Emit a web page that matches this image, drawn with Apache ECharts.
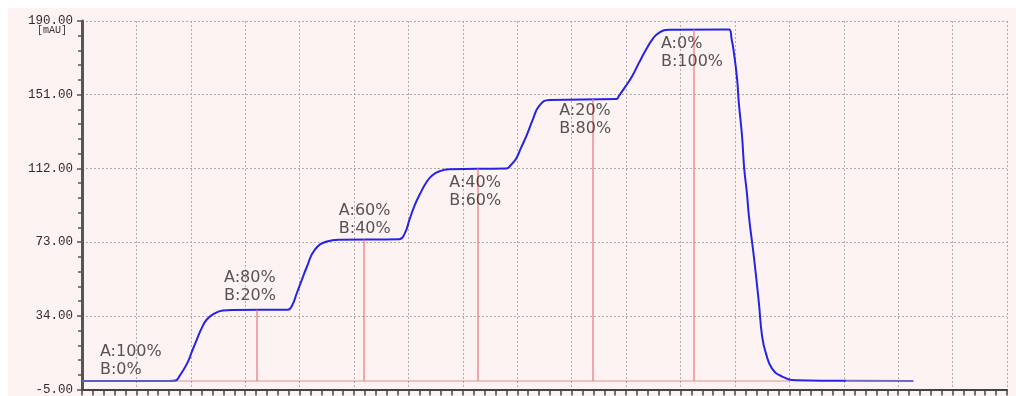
<!DOCTYPE html>
<html>
<head>
<meta charset="utf-8">
<script src="https://cdn.jsdelivr.net/npm/echarts@6/dist/echarts.min.js"></script>
<style>
  html, body { margin: 0; padding: 0; background: #ffffff; }
  #bg { position: absolute; left: 8px; top: 8px; right: 0; bottom: 0; background: #fdf3f2; }
  #chart { position: absolute; left: 0; top: 0; width: 1016px; height: 396px; }
</style>
</head>
<body>
<div id="bg"></div>
<div id="chart"></div>
<script>
// absorbance trace, x in grid units, y in mAU
const traceX = [0, 1.60, 1.71, 1.80, 1.93, 2.02, 2.11, 2.20, 2.29, 2.44, 2.59, 2.77, 3.78,
  3.87, 3.94, 4.04, 4.13, 4.28, 4.50, 4.73, 5.83,
  5.93, 6.02, 6.11, 6.20, 6.33, 6.44, 6.57, 6.75, 7.80,
  7.89, 7.98, 8.07, 8.17, 8.29, 8.40, 8.59, 9.82,
  9.87, 9.98, 10.11, 10.24, 10.37, 10.48, 10.61, 10.79, 11.89,
  11.94, 11.98, 12.04, 12.07, 12.13, 12.17, 12.22, 12.26, 12.35, 12.44, 12.50, 12.57, 12.68, 12.86, 13.12, 14.05, 15.28];
const traceY = [-0.5, -0.5, -0.3, 2.5, 8.7, 15, 21.4, 27.5, 31.9, 35.3, 36.8, 37.1, 37.2,
  40, 45.4, 53, 59.7, 69, 73.3, 74.3, 74.5,
  77.5, 85, 92.2, 97.8, 104.7, 108.4, 110.5, 111.5, 112,
  114.1, 117.3, 123, 129.3, 138.2, 145, 148.2, 148.7,
  150.5, 155, 160.8, 168.1, 175, 180.2, 183.9, 185.4, 185.5,
  180.2, 173.4, 159.2, 147.1, 129.3, 112, 98.9, 85.8, 64.8, 40.8, 23, 14.1, 6.2, 2, -0.1, -0.4, -0.5];

// gradient step markers (red lines)
const stepX = [3.21, 5.17, 7.27, 9.38, 11.25];
const stepTop = [37.2, 74.4, 112, 148.7, 185.5];
const baseLevel = -0.5;
const baseEnd = 13.0;

// solvent composition annotations
const compA = [100, 80, 60, 40, 20, 0];
const compB = [0, 20, 40, 60, 80, 100];
const compX = [0.33, 2.61, 4.72, 6.75, 8.77, 10.64];
const compY = [9.9, 49.2, 84.8, 99.5, 137.7, 172.9];

// axes
const yMin = -5, yMax = 190, yStep = 39;
const xMin = 0, xMax = 17, xStep = 1;

(function () {
  const chart = echarts.init(document.getElementById('chart'), null, { renderer: 'canvas' });

  const trace = traceX.map((x, i) => [x, traceY[i]]);
  const head = trace.filter(p => p[0] <= 1.71);
  const tail = trace.filter(p => p[0] >= 14.05);
  const body = trace.filter(p => p[0] >= 1.60 && p[0] <= 14.05);

  const markers = stepX.map((x, i) => [
    { coord: [x, baseLevel] },
    { coord: [x, stepTop[i]] }
  ]);

  const labels = compX.map((x, i) => ({
    value: [x, compY[i]],
    label: { formatter: 'A:' + compA[i] + '%\nB:' + compB[i] + '%' }
  }));

  const gridLine = { show: true, lineStyle: { color: '#b4a9a9', type: [2, 2], width: 1 } };

  chart.setOption({
    animation: false,
    backgroundColor: 'transparent',
    grid: { left: 82, top: 21, right: 9, bottom: 2, containLabel: false },
    xAxis: {
      type: 'value',
      min: xMin,
      max: xMax,
      interval: xStep,
      axisLine: { show: true, onZero: false, lineStyle: { color: '#444', width: 2 } },
      axisTick: { show: true, inside: false, length: 6, lineStyle: { color: '#444', width: 1.5 } },
      minorTick: { show: true, splitNumber: 5, length: 6, lineStyle: { color: '#444', width: 1.5 } },
      axisLabel: { show: false },
      splitLine: gridLine
    },
    yAxis: {
      type: 'value',
      min: yMin,
      max: yMax,
      interval: yStep,
      axisLine: { show: true, lineStyle: { color: '#555', width: 3 } },
      axisTick: { show: true, inside: false, length: 5, lineStyle: { color: '#555', width: 1.5 } },
      minorTick: { show: true, splitNumber: 5, length: 4, lineStyle: { color: '#555', width: 1.5 } },
      axisLabel: {
        margin: 9,
        color: '#2e2e2e',
        fontFamily: 'Liberation Mono',
        fontSize: 12.5,
        formatter: v => v.toFixed(2)
      },
      splitLine: gridLine
    },
    graphic: [{
      type: 'text',
      left: 37,
      top: 25,
      style: { text: '[mAU]', fill: '#333', font: '10px "Liberation Mono"' }
    }],
    series: [
      {
        name: 'baseline',
        type: 'line',
        data: [[xMin, baseLevel], [baseEnd, baseLevel]],
        symbol: 'none',
        lineStyle: { color: 'rgba(225,110,110,0.75)', width: 1.2 },
        markLine: {
          silent: true,
          symbol: 'none',
          label: { show: false },
          lineStyle: { color: 'rgba(236,125,125,0.8)', width: 1.6, type: 'solid' },
          data: markers
        },
        z: 1
      },
      {
        name: 'trace',
        type: 'line',
        data: body,
        symbol: 'none',
        smooth: 0.5,
        lineStyle: { color: '#2424e6', width: 2 },
        z: 3
      },
      {
        name: 'head',
        type: 'line',
        data: head,
        symbol: 'none',
        lineStyle: { color: '#5660c8', width: 2 },
        z: 3
      },
      {
        name: 'tail',
        type: 'line',
        data: tail,
        symbol: 'none',
        lineStyle: { color: '#6a6ac8', width: 2 },
        z: 3
      },
      {
        name: 'composition',
        type: 'scatter',
        data: labels,
        symbolSize: 0,
        silent: true,
        label: {
          show: true,
          position: 'right',
          distance: 0,
          color: '#2a2a2a',
          fontFamily: 'DejaVu Sans',
          fontSize: 16,
          lineHeight: 18,
          align: 'left'
        },
        z: 5
      }
    ]
  });

  window.addEventListener('resize', () => chart.resize());
})();
</script>
</body>
</html>
